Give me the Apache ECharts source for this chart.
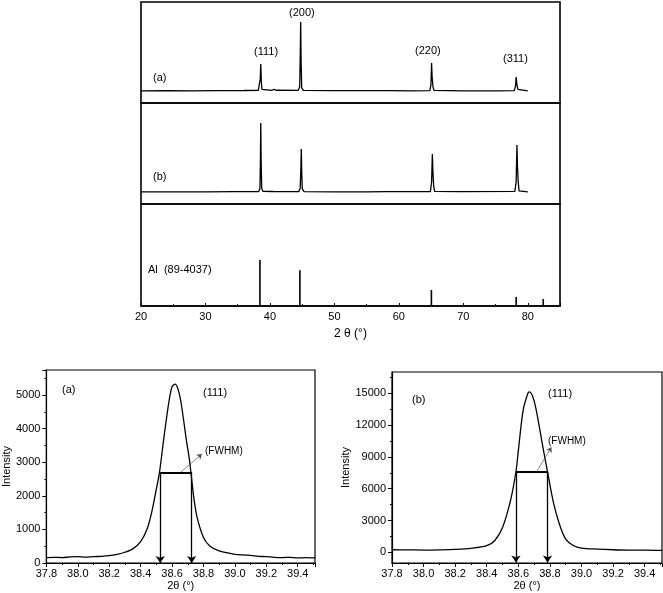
<!DOCTYPE html>
<html><head><meta charset="utf-8">
<script src="https://cdn.jsdelivr.net/npm/echarts@6/dist/echarts.min.js"></script>
<style>html,body{margin:0;padding:0;background:#fff}#c{width:663px;height:593px}</style>
</head><body><div id="c"></div>
<script>
// ---- Data ----
// Top: XRD patterns (2θ, relative intensity)
const xrdA = [[20.0,12],[24,12.2],[28,12],[32,12.3],[36,12.4],[38.2,12.6],[38.42,14],[38.5,24],[38.58,38.6],[38.66,22],[38.76,13.5],[39.0,12.6],[40.3,12.6],[40.5,14.5],[40.62,13.5],[40.75,14.2],[40.95,12.6],[44.4,12.5],[44.62,16],[44.7,45],[44.77,80.2],[44.84,40],[44.93,15],[45.2,12.5],[50,12.2],[55,12.2],[58.0,12.3],[58.25,13],[58.5,12.3],[62,12],[64.8,12.3],[64.98,18],[65.08,39.6],[65.16,26],[65.22,24.8],[65.3,16],[65.45,12.5],[70,12],[75,12],[77.9,12.2],[78.1,17],[78.2,25.7],[78.3,18.5],[78.38,17.8],[78.48,13.5],[78.7,12],[80,12]];
const xrdB = [[20,12],[25,12],[30,12],[34.5,12.2],[34.7,13.2],[34.9,12.2],[38.25,12.3],[38.45,15],[38.52,40],[38.58,80.2],[38.64,42],[38.72,16],[38.9,12.5],[40.5,12.4],[40.62,13],[40.75,12.4],[44.5,12.3],[44.7,16],[44.8,35],[44.87,54.5],[44.94,30],[45.02,15],[45.3,12.3],[50,12.1],[55,12.1],[58.1,12.2],[58.3,13],[58.5,12.2],[64.9,12.3],[65.08,22],[65.2,49.5],[65.28,33],[65.32,31.7],[65.4,18],[65.55,12.5],[69.4,12.2],[69.6,13.5],[69.8,12.2],[78.0,12.5],[78.2,22],[78.32,58.4],[78.4,38],[78.45,36.6],[78.52,22],[78.65,13],[78.9,12],[80,12]];
const alRef = [[38.45,45],[44.65,35],[65.05,15.7],[78.2,8.8],[82.4,6.9]];
const topTicks = [20,30,40,50,60,70,80];
// Bottom: (111) peak profiles
const peakA = [[37.80,160],[37.85,170],[37.90,160],[37.95,180],[38.00,190],[38.05,175],[38.10,190],[38.15,200],[38.20,220],[38.25,260],[38.30,320],[38.35,420],[38.40,640],[38.44,1000],[38.47,1500],[38.50,2200],[38.52,2700],[38.55,3800],[38.58,4800],[38.60,5250],[38.62,5330],[38.64,5150],[38.66,4700],[38.69,3700],[38.71,3100],[38.72,2700],[38.74,1900],[38.76,1350],[38.80,760],[38.84,510],[38.90,360],[39.00,260],[39.05,240],[39.10,230],[39.15,200],[39.20,190],[39.25,170],[39.30,160],[39.35,170],[39.40,150],[39.45,160],[39.51,150]];
const peakB = [[37.80,250],[37.90,240],[38.00,220],[38.10,240],[38.20,280],[38.30,380],[38.40,630],[38.45,1100],[38.50,2350],[38.55,4860],[38.585,7600],[38.60,9570],[38.63,13340],[38.66,14970],[38.67,15120],[38.70,14280],[38.73,12080],[38.76,9570],[38.785,7600],[38.82,4860],[38.86,2670],[38.90,1250],[38.95,630],[39.00,410],[39.10,310],[39.20,250],[39.30,220],[39.40,220],[39.51,190]];
const fwhmA = {left:38.525, right:38.725, level:2700};
const fwhmB = {left:38.585, right:38.785, level:7600};
const yTicksB = [0,3000,6000,9000,12000,15000];
const yMinorB = [1500,4500,7500,10500,13500,16500];

const F = "'Liberation Sans', Arial, 'Noto Sans CJK SC', sans-serif";
const lbl = {color:'#000', fontFamily:F, fontSize:11};
const chart = echarts.init(document.getElementById('c'));
const plain = v => String(v);

function hiddenX(g){return {type:'value',gridIndex:g,min:20,max:85,show:false};}
function hiddenY(g){return {type:'value',gridIndex:g,min:0,max:100,show:false};}

function fwhmLines(f, bottom, tipX, tipY){
  return {
    silent:true, animation:false, symbolSize:7,
    label:{show:false},
    lineStyle:{color:'#000', width:1.3, type:'solid'},
    data:[
      [{coord:[f.left,f.level],symbol:'none'},{coord:[f.right,f.level],symbol:'none',lineStyle:{width:2}}],
      [{coord:[f.left,f.level],symbol:'none'},{coord:[f.left,bottom],symbol:'arrow'}],
      [{coord:[f.right,f.level],symbol:'none'},{coord:[f.right,bottom],symbol:'arrow'}],
      [{coord:[(f.left+f.right)/2+0.03,f.level],symbol:'none'},{coord:[tipX,tipY],symbol:'arrow',symbolSize:5,lineStyle:{width:0.7,color:'#555'}}]
    ]
  };
}

const option = {
  animation:false,
  backgroundColor:'#fff',
  grid:[
    {left:141,top:2,width:419,height:101,show:true,borderColor:'#000',borderWidth:1.6},
    {left:141,top:103,width:419,height:101,show:true,borderColor:'#000',borderWidth:1.6},
    {left:141,top:204,width:419,height:102,show:true,borderColor:'#000',borderWidth:1.6},
    {left:44,top:370,width:271,height:193,show:true,borderColor:'#000',borderWidth:1.2},
    {left:392,top:372,width:270,height:191,show:true,borderColor:'#000',borderWidth:1.2}
  ],
  xAxis:[
    hiddenX(0), hiddenX(1),
    {type:'value',gridIndex:2,min:20,max:85,interval:10,
     name:'2 θ (°)',nameLocation:'middle',nameGap:22,nameTextStyle:{color:'#000',fontFamily:F,fontSize:12},
     axisLine:{lineStyle:{color:'#000',width:1.6}},
     axisTick:{inside:true,length:3,lineStyle:{color:'#000'}},
     minorTick:{show:true,splitNumber:2,length:2,lineStyle:{color:'#000'}},
     axisLabel:Object.assign({margin:5,customValues:topTicks},lbl),
     splitLine:{show:false}},
    {type:'value',gridIndex:3,min:37.8,max:39.51,interval:0.2,
     name:'2θ (°)',nameLocation:'middle',nameGap:17,nameTextStyle:{color:'#000',fontFamily:F,fontSize:11},
     axisLine:{onZero:false,lineStyle:{color:'#000',width:1.2}},
     axisTick:{length:4,lineStyle:{color:'#000'}},
     minorTick:{show:true,splitNumber:2,length:2,lineStyle:{color:'#000'}},
     axisLabel:Object.assign({margin:5,formatter:v=>v.toFixed(1)},lbl),
     splitLine:{show:false}},
    {type:'value',gridIndex:4,min:37.8,max:39.51,interval:0.2,
     name:'2θ (°)',nameLocation:'middle',nameGap:17,nameTextStyle:{color:'#000',fontFamily:F,fontSize:11},
     axisLine:{onZero:false,lineStyle:{color:'#000',width:1.2}},
     axisTick:{length:4,lineStyle:{color:'#000'}},
     minorTick:{show:true,splitNumber:2,length:2,lineStyle:{color:'#000'}},
     axisLabel:Object.assign({margin:5,formatter:v=>v.toFixed(1)},lbl),
     splitLine:{show:false}}
  ],
  yAxis:[
    hiddenY(0), hiddenY(1), hiddenY(2),
    {type:'value',gridIndex:3,min:0,max:5750,interval:1000,
     name:'Intensity',nameLocation:'middle',nameGap:33,nameTextStyle:{color:'#000',fontFamily:F,fontSize:11},
     axisLine:{lineStyle:{color:'#000',width:1.2}},
     axisTick:{length:4,lineStyle:{color:'#000'}},
     minorTick:{show:true,splitNumber:2,length:2,lineStyle:{color:'#000'}},
     axisLabel:Object.assign({margin:6,showMaxLabel:false,formatter:plain},lbl),
     splitLine:{show:false}},
    {type:'value',gridIndex:4,min:-1000,max:17000,position:'left',
     name:'Intensity',nameLocation:'middle',nameGap:31,nameTextStyle:{color:'#000',fontFamily:F,fontSize:11},
     axisLine:{onZero:false,lineStyle:{color:'#000',width:1.2}},
     axisTick:{length:4,customValues:yTicksB,lineStyle:{color:'#000'}},
     axisLabel:Object.assign({margin:6,customValues:yTicksB,formatter:plain},lbl),
     splitLine:{show:false}},
    {type:'value',gridIndex:4,min:-1000,max:17000,position:'left',offset:0,
     axisLine:{show:false},
     axisTick:{length:2,customValues:yMinorB,lineStyle:{color:'#000'}},
     axisLabel:{show:false},
     splitLine:{show:false}}
  ],
  series:[
    {type:'line',xAxisIndex:0,yAxisIndex:0,data:xrdA,symbol:'none',lineStyle:{color:'#000',width:1.3}},
    {type:'line',xAxisIndex:1,yAxisIndex:1,data:xrdB,symbol:'none',lineStyle:{color:'#000',width:1.3}},
    {type:'bar',xAxisIndex:2,yAxisIndex:2,data:alRef,barWidth:1.6,itemStyle:{color:'#000'}},
    {type:'line',xAxisIndex:3,yAxisIndex:3,data:peakA,symbol:'none',smooth:0.3,lineStyle:{color:'#000',width:1.3},
     markLine:fwhmLines(fwhmA,0,38.79,3250)},
    {type:'line',xAxisIndex:4,yAxisIndex:4,data:peakB,symbol:'none',smooth:0.3,lineStyle:{color:'#000',width:1.3},
     markLine:fwhmLines(fwhmB,-950,38.81,9900)}
  ],
  graphic:[
    {type:'text',left:153,top:72,style:{text:'(a)',font:'11px '+F,fill:'#000'}},
    {type:'text',left:153,top:171,style:{text:'(b)',font:'11px '+F,fill:'#000'}},
    {type:'text',left:254,top:46,style:{text:'(111)',font:'11px '+F,fill:'#000'}},
    {type:'text',left:289,top:7,style:{text:'(200)',font:'11px '+F,fill:'#000'}},
    {type:'text',left:415,top:45,style:{text:'(220)',font:'11px '+F,fill:'#000'}},
    {type:'text',left:503,top:53,style:{text:'(311)',font:'11px '+F,fill:'#000'}},
    {type:'text',left:148,top:264,style:{text:'Al  (89-4037)',font:'11px '+F,fill:'#000'}},
    {type:'text',left:62,top:384,style:{text:'(a)',font:'11px '+F,fill:'#000'}},
    {type:'text',left:203,top:387,style:{text:'(111)',font:'11px '+F,fill:'#000'}},
    {type:'text',left:205,top:446,style:{text:'(FWHM)',font:'10px '+F,fill:'#000'}},
    {type:'text',left:412,top:394,style:{text:'(b)',font:'11px '+F,fill:'#000'}},
    {type:'text',left:548,top:388,style:{text:'(111)',font:'11px '+F,fill:'#000'}},
    {type:'text',left:548,top:436,style:{text:'(FWHM)',font:'10px '+F,fill:'#000'}}
  ]
};
chart.setOption(option);
</script></body></html>
